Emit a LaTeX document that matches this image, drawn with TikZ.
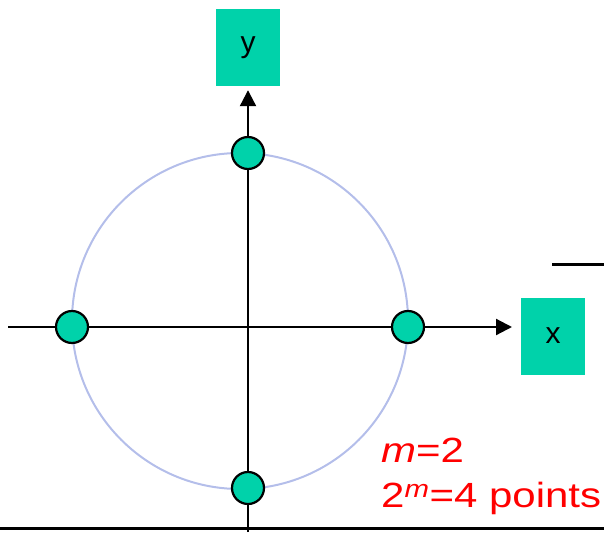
\documentclass[tikz,border=0pt]{standalone}
\usepackage{fontspec}
\setmainfont{Liberation Sans}
\newfontfamily\widesans[FakeStretch=1.2]{Liberation Sans}
\usetikzlibrary{arrows.meta}
\definecolor{teal1}{HTML}{00D2AA}
\definecolor{ringc}{HTML}{B4BEEA}
\tikzset{
  labelbox/.style={rectangle, fill=teal1, minimum width=64pt, minimum height=77pt, inner sep=0pt, font=\fontsize{30}{34}\selectfont},
  dot/.style={circle, draw=black, line width=2.2pt, fill=teal1, minimum size=32pt, inner sep=0pt},
  axis/.style={line width=2.2pt, -{Triangle[length=16pt,width=16pt]}},
  rule/.style={line width=3pt},
  redtxt/.style={text=red, font=\widesans\fontsize{35}{38}\selectfont, anchor=base west, inner sep=0pt}
}
\begin{document}
\begin{tikzpicture}[x=1pt,y=-1pt]
\useasboundingbox (0,0) rectangle (604,532);
% ring
\coordinate (o) at (240,321);
\draw[ringc, line width=2pt] (o) circle[radius=168];
% boxes
\node[labelbox] (ybox) at (248,47.5) {y};
\node[labelbox] (xbox) at (553,336) {x};
% axes
\coordinate (vbot) at (248,532);
\coordinate (hleft) at (8,327);
\coordinate (xtip) at (512,327);
\draw[axis, shorten >=4pt] (vbot) -- (ybox.south);
\draw[axis] (hleft) -- (xtip);
% dots
\node[dot] (top) at (248,153) {};
\node[dot] (bot) at (248,488) {};
\node[dot] (left) at (72,327) {};
\node[dot] (right) at (408,327) {};
% rules
\coordinate (r1a) at (552,264);
\coordinate (r1b) at (604,264);
\draw[rule] (r1a) -- (r1b);
\coordinate (r2a) at (0,528);
\coordinate (r2b) at (604,528);
\draw[rule] (r2a) -- (r2b);
% text
\node[redtxt] (t1) at (381,462) {\textit{m}=2};
\node[redtxt] (t2) at (381,507) {2\textsuperscript{\textit{m}}=4 points};
\end{tikzpicture}
\end{document}
